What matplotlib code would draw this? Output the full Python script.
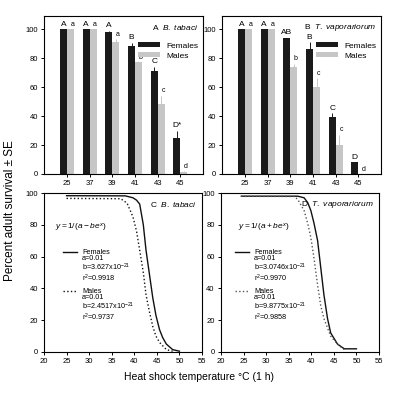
import matplotlib
matplotlib.use("Agg")
import matplotlib.pyplot as plt
import numpy as np

plt.rcParams['font.family'] = ['Liberation Sans', 'DejaVu Sans']
plt.rcParams['mathtext.fontset'] = 'custom'
plt.rcParams['mathtext.rm'] = 'Liberation Sans'
plt.rcParams['mathtext.it'] = 'Liberation Sans:italic'

# === bar data (percent adult survival)
temps = ['25', '37', '39', '41', '43', '45']

tabaci_fem = [100, 100, 98, 88, 71, 25]
tabaci_fem_se = [0, 0, 0.8, 2.5, 3, 5]
tabaci_male = [100, 100, 91, 77, 48, 1.5]
tabaci_male_se = [0, 0, 2, 0, 6, 0.5]
tabaci_fem_lab = ['A', 'A', 'A', 'B', 'C', 'D*']
tabaci_male_lab = ['a', 'a', 'a', 'b', 'c', 'd']

vapor_fem = [100, 100, 94, 86, 39, 8]
vapor_fem_se = [0, 0, 0, 5, 3, 0]
vapor_male = [100, 100, 74, 60, 20, 0]
vapor_male_se = [0, 0, 2, 6, 7, 0]
vapor_fem_lab = ['A', 'A', 'AB', 'B', 'C', 'D']
vapor_male_lab = ['a', 'a', 'b', 'c', 'c', 'd']

# === fitted curves, points
c_fem_x = [25, 38, 39.7, 40.5, 41.2, 42, 42.6, 43.3, 44.1, 44.8, 45.6, 46.3, 47.1, 48.5, 50]
c_fem_y = [98.3, 98.2, 97, 95.5, 93, 80, 64, 50, 34, 23, 14, 9, 5, 1.5, 0.5]
c_male_x = [25, 37, 38.4, 39.7, 40.5, 41.2, 42, 42.6, 43.3, 44.1, 44.8, 45.6, 47.1, 48.5]
c_male_y = [96.6, 96.4, 93.6, 85, 76, 64, 50, 36, 26, 16, 10, 6, 1.5, 0.5]

d_fem_x = [24.5, 37, 38.4, 39.2, 39.9, 40.6, 41.4, 42.1, 42.8, 43.6, 44.3, 45.8, 47.3, 48, 50]
d_fem_y = [98, 98, 97, 94, 89, 81, 70, 53, 36, 21, 12, 5, 2, 2, 2]
d_male_x = [24.5, 36.2, 37, 38.4, 39.2, 39.9, 40.6, 41.4, 42.1, 42.8, 44.3, 45.8, 47.3]
d_male_y = [97.9, 97.8, 96, 89, 81, 72, 59, 42, 29, 21, 10, 5, 1.5]

GRAY = '#c6c6c6'
fig = plt.figure(figsize=(3.98, 3.97), dpi=100)

W, H = 398.0, 397.0
def box(x0, y0, x1, y1):
    return [x0 / W, 1 - y1 / H, (x1 - x0) / W, (y1 - y0) / H]

axA = fig.add_axes(box(44, 16, 203, 174))
axB = fig.add_axes(box(222, 16, 381, 174))
axC = fig.add_axes(box(44, 193, 202, 352))
axD = fig.add_axes(box(221, 193, 379, 352))


def bars(ax, fem, fse, male, mse, flab, mlab, title):
    x = np.arange(len(temps))
    w = 0.31
    ax.bar(x - w / 2, fem, w, color='#1a1a1a', label='Females')
    ax.bar(x + w / 2, male, w, color=GRAY, label='Males')
    ax.errorbar(x - w / 2, fem, yerr=[np.zeros(len(fem)), fse], fmt='none',
                ecolor='#1a1a1a', elinewidth=0.7, capsize=0)
    ax.errorbar(x + w / 2, male, yerr=[np.zeros(len(male)), mse], fmt='none',
                ecolor=GRAY, elinewidth=0.7, capsize=0)
    for i in range(len(temps)):
        ax.text(x[i] - w / 2, fem[i] + fse[i] + 1, flab[i], ha='center',
                va='bottom', fontsize=6)
        ax.text(x[i] + w / 2 + 0.08, male[i] + mse[i] + 1, mlab[i], ha='center',
                va='bottom', fontsize=5)
    ax.set_xticks(x)
    ax.set_xticklabels(temps)
    ax.set_xlim(-1.02, 6.0)
    ax.set_ylim(0, 109)
    ax.set_yticks([0, 20, 40, 60, 80, 100])
    ax.text(0.97, 0.93, title, transform=ax.transAxes, ha='right', va='center',
            fontsize=6)
    ax.legend(loc='upper right', bbox_to_anchor=(1.02, 0.88), frameon=False,
              fontsize=6, handlelength=2.6, handleheight=0.5, labelspacing=0.3)


def curves(ax, fx, fy, mx, my, title, eq, eqx, hx, ftxt, mtxt, fcolor, mcolor):
    ax.plot(fx, fy, color=fcolor, lw=1.0)
    ax.plot(mx, my, color=mcolor, lw=1.0, ls=':')
    ax.set_xlim(20, 55)
    ax.set_ylim(0, 100)
    ax.set_xticks(range(20, 56, 5))
    ax.set_yticks([0, 20, 40, 60, 80, 100])
    ax.text(0.97, 0.93, title, transform=ax.transAxes, ha='right', va='center',
            fontsize=6)
    ax.text(eqx, 0.78, eq, transform=ax.transAxes, ha='left', va='center',
            fontsize=6)
    # hand-made key: handle sits beside the first line of each block
    for y0, txt, col, ls in ((0.63, ftxt, fcolor, '-'), (0.385, mtxt, mcolor, ':')):
        ax.plot([hx, hx + 0.09], [y0, y0], transform=ax.transAxes, color=col,
                lw=1.0, ls=ls)
        ax.text(hx + 0.12, y0 + 0.02, txt, transform=ax.transAxes, ha='left',
                va='top', fontsize=5.2, linespacing=0.95)


bars(axA, tabaci_fem, tabaci_fem_se, tabaci_male, tabaci_male_se,
     tabaci_fem_lab, tabaci_male_lab, 'A  $\\it{B.\\ tabaci}$')
bars(axB, vapor_fem, vapor_fem_se, vapor_male, vapor_male_se,
     vapor_fem_lab, vapor_male_lab, 'B  $\\it{T.\\ vaporariorum}$')

curves(axC, c_fem_x, c_fem_y, c_male_x, c_male_y, 'C  $\\it{B.\\ tabaci}$',
       '$y = 1/(a - be^{x})$', 0.07, 0.12,
       'Females\na=0.01\nb=3.627x10$^{-21}$\nr$^2$=0.9918',
       'Males\na=0.01\nb=2.4517x10$^{-21}$\nr$^2$=0.9737',
       '#111111', '#111111')
curves(axD, d_fem_x, d_fem_y, d_male_x, d_male_y, 'D  $\\it{T.\\ vaporariorum}$',
       '$y = 1/(a + be^{x})$', 0.11, 0.09,
       'Females\na=0.01\nb=3.0746x10$^{-21}$\nr$^2$=0.9970',
       'Males\na=0.01\nb=9.8775x10$^{-21}$\nr$^2$=0.9858',
       '#111111', '#555555')

for ax in (axA, axB, axC, axD):
    ax.tick_params(labelsize=5.5, length=2.5, width=0.7, pad=2)
    for s in ax.spines.values():
        s.set_linewidth(0.8)

fig.text(0.025, 0.47, 'Percent adult survival \u00b1 SE', rotation=90,
         ha='center', va='center', fontsize=8.5)
fig.text(0.5, 0.05, 'Heat shock temperature \u00b0C (1 h)', ha='center',
         va='center', fontsize=7.5)

fig.savefig('out.png', dpi=100)
